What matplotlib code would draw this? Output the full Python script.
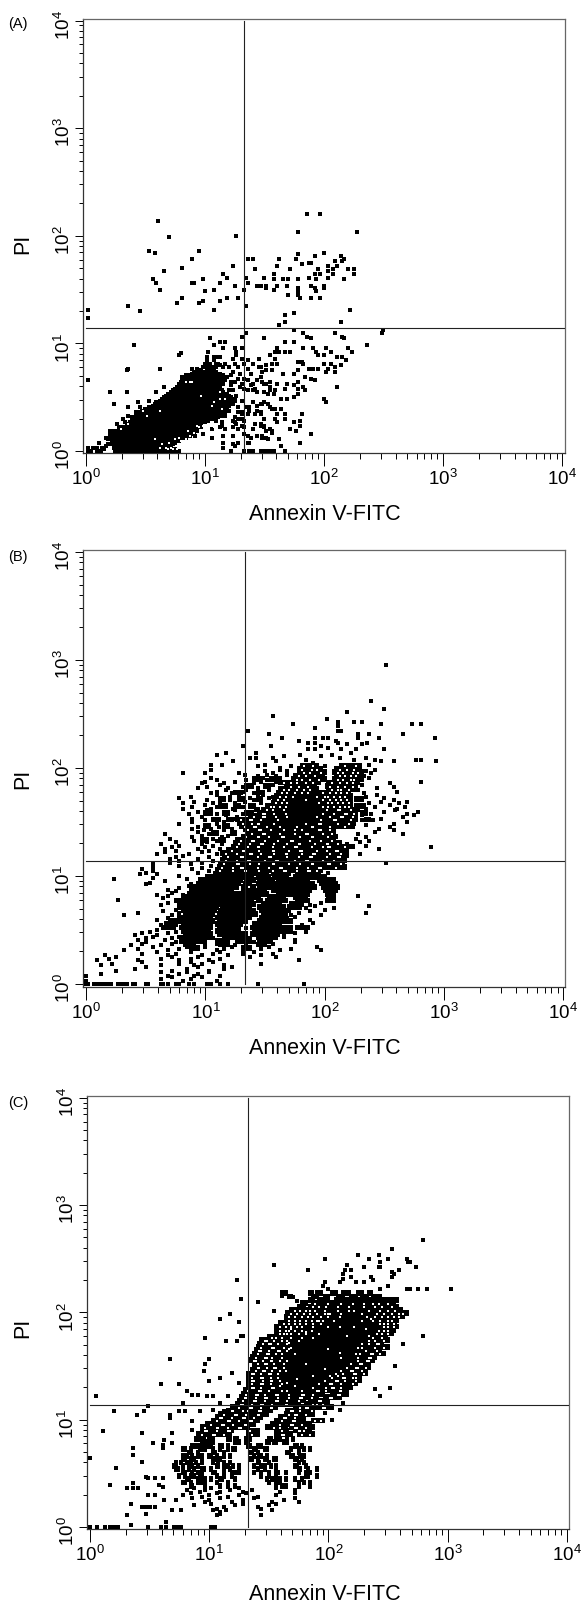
import numpy as np
import matplotlib
matplotlib.use('Agg')
import matplotlib.pyplot as plt
from matplotlib.ticker import LogLocator, NullFormatter
from matplotlib.transforms import ScaledTranslation

plt.rcParams['font.family'] = ['Liberation Sans', 'DejaVu Sans']
plt.rcParams['mathtext.fontset'] = 'custom'
plt.rcParams['mathtext.rm'] = 'Liberation Sans'

# all events are in display channels, 64 channels per decade, 256 in all
CH_PER_DECADE = 64
x_gate = 85
y_gate = 73
decades = [1, 10, 100, 1000, 10000]
tick_text = [r'$\mathregular{10^{%d}}$' % i for i in range(5)]
x_title = 'Annexin V-FITC'
y_title = 'PI'

# Panel A: solid population as one run per y channel (index = y channel)
a_row_left = [16, 16, 15, 15, 14, 14, 14, 14, 13, 13, 13, 13, 13, 18, 20, 22, 23, 24, 25, 26, 26, 27, 28, 29,
              30, 32, 34, 36, 37, 38, 40, 41, 42, 43, 44, 46, 47, 48, 49, 50, 50, 51, 52, 53, 55, 56, 57, 58]
a_row_right = [50, 48, 46, 46, 47, 48, 50, 50, 54, 56, 58, 58, 58, 59, 62, 60, 62, 64, 66, 69, 71, 73, 75, 75,
               76, 76, 76, 77, 78, 79, 80, 80, 78, 77, 76, 74, 73, 72, 72, 72, 74, 74, 75, 74, 75, 74, 72, 70]
a_holes = [(37, 7), (40, 2), (43, 2), (48, 7), (50, 8), (50, 3), (52, 5), (53, 2), (55, 2), (56, 3), (58, 4), (62, 33),
           (69, 29), (68, 27), (73, 25), (33, 21), (40, 24), (31, 24), (19, 13), (23, 16), (61, 14), (64, 14), (66, 14),
           (69, 14), (54, 41), (56, 41), (57, 41), (72, 35), (72, 31), (75, 31), (46, 2), (45, 5), (41, 4), (49, 1), (47, 1),
           (51, 6), (54, 7), (56, 9), (58, 11), (55, 12), (52, 0), (44, 1), (60, 15), (63, 15), (67, 15), (70, 16)]
a_upper = [(39, 137), (45, 127), (34, 119), (37, 118), (57, 114), (61, 119), (81, 128), (114, 130), (119, 141), (126, 141),
           (146, 130), (114, 117), (128, 118), (123, 116), (137, 116), (87, 114), (90, 114), (104, 114), (113, 114), (116, 111),
           (120, 112), (121, 112), (103, 110), (79, 110), (42, 107), (52, 109), (91, 108), (110, 108), (130, 110), (134, 113),
           (138, 113), (139, 114), (135, 110), (141, 108), (144, 108), (144, 105), (133, 108), (130, 107), (125, 108), (123, 105),
           (133, 105), (126, 105), (101, 105), (74, 105), (36, 102), (38, 100), (40, 96), (57, 100), (58, 100), (63, 102),
           (72, 100), (76, 103), (86, 103), (87, 100), (96, 103), (101, 102), (106, 102), (109, 102), (114, 102), (120, 103),
           (124, 102), (130, 103), (139, 102), (80, 98), (85, 96), (69, 96), (64, 95), (92, 98), (94, 98), (97, 98), (97, 97),
           (101, 96), (103, 98), (108, 98), (114, 97), (114, 95), (121, 98), (123, 97), (124, 95), (128, 98), (128, 97), (109, 93),
           (114, 93), (115, 91), (121, 91), (126, 91), (52, 91), (49, 88), (61, 88), (63, 89), (72, 89), (76, 91), (82, 91),
           (86, 86), (69, 84), (23, 86), (29, 83), (1, 84), (1, 79), (112, 82), (107, 81), (107, 77), (104, 75), (112, 72),
           (142, 84), (137, 77), (160, 72), (159, 70), (86, 70), (117, 70), (119, 68), (121, 67), (84, 68), (96, 67), (112, 65),
           (107, 65), (103, 61), (134, 70), (138, 68), (139, 67), (151, 63), (129, 61)]
a_lower = [(67, 67), (72, 65), (75, 65), (69, 63), (74, 61), (80, 61), (84, 61), (81, 59), (66, 59), (69, 56), (72, 56), (65, 56),
           (65, 54), (67, 52), (69, 54), (64, 52), (71, 56), (72, 51), (75, 52), (74, 50), (77, 50), (80, 52), (79, 55), (81, 57),
           (84, 55), (85, 52), (87, 54), (82, 50), (87, 49), (89, 46), (93, 55), (95, 47), (99, 57), (100, 52), (94, 50), (78, 45),
           (79, 47), (80, 41), (78, 39), (82, 43), (84, 40), (85, 43), (77, 36), (79, 36), (81, 33), (83, 38), (85, 37), (87, 42),
           (89, 39), (87, 36), (91, 37), (95, 41), (97, 40), (99, 36), (102, 36), (82, 26), (82, 23), (86, 26), (88, 26), (90, 29),
           (94, 28), (96, 29), (99, 26), (102, 25), (94, 23), (87, 22), (91, 22), (82, 19), (85, 18), (79, 18), (91, 16), (94, 16),
           (96, 14), (99, 13), (100, 11), (90, 13), (92, 9), (95, 9), (98, 7), (79, 14), (82, 13), (85, 14), (73, 15), (75, 13),
           (79, 9), (74, 9), (85, 10), (87, 9), (87, 5), (82, 5), (74, 5), (68, 8), (63, 10), (68, 13), (74, 2), (79, 4), (78, 0),
           (85, 0), (88, 0), (90, 0), (94, 0), (98, 0), (101, 0), (102, 59), (104, 59), (107, 59), (110, 59), (102, 55), (103, 52),
           (100, 48), (114, 53), (116, 53), (117, 52), (117, 61), (122, 61), (124, 59), (125, 57), (128, 57), (132, 59), (135, 56),
           (138, 56), (140, 54), (143, 59), (141, 61), (132, 52), (134, 50), (137, 51), (130, 49), (128, 52), (125, 49), (122, 49),
           (120, 49), (114, 48), (112, 46), (106, 46), (118, 44), (121, 43), (123, 42), (114, 41), (112, 39), (103, 40), (99, 41),
           (99, 38), (96, 40), (108, 40), (107, 37), (114, 37), (117, 38), (118, 36), (114, 34), (112, 32), (108, 31), (105, 31),
           (101, 34), (98, 34), (96, 35), (92, 35), (90, 36), (90, 40), (92, 42), (128, 31), (129, 29), (135, 38), (134, 47),
           (129, 47), (94, 44), (97, 48), (93, 50), (90, 52), (97, 51), (92, 27), (95, 28), (98, 28), (100, 25), (102, 25), (105, 25),
           (107, 22), (103, 22), (94, 22), (92, 24), (88, 24), (84, 23), (96, 19), (102, 19), (103, 17), (107, 19), (112, 17),
           (115, 18), (116, 22), (115, 15), (110, 13), (113, 12), (121, 10), (94, 15), (96, 15), (97, 12), (100, 12), (95, 8), (97, 8),
           (89, 8), (104, 7), (115, 5), (105, 3), (88, 5), (84, 19), (84, 15), (80, 17), (80, 3), (90, 0), (96, 0), (97, 0), (100, 0),
           (107, 0), (1, 42), (23, 49), (22, 48), (26, 63), (40, 49), (51, 58), (50, 57), (13, 35), (22, 35), (15, 28), (23, 26), (28, 29),
           (1, 2), (4, 2), (2, 0), (1, 0), (7, 5), (9, 2), (11, 8), (13, 10), (17, 16), (20, 19), (23, 21), (3, 0), (6, 0), (8, 0), (10, 1),
           (11, 3), (6, 2), (12, 7), (12, 4), (18, 14), (21, 17), (25, 20), (27, 23), (29, 26), (34, 30), (38, 35), (42, 38), (52, 44),
           (54, 45), (57, 49), (60, 49), (62, 48), (76, 44), (78, 41), (83, 46), (76, 33), (84, 30), (79, 28), (77, 24), (84, 22), (75, 21),
           (80, 20), (70, 18), (73, 17), (81, 16), (72, 14), (60, 12), (59, 9)]
a_runs = [(48, '60-62 65-69'), (50, '63-66 68-70'), (52, '66-67 70-71')]

# Panel B
b_core_x = [111, 123, 129, 127, 115, 105, 97, 91, 85, 81, 69, 61, 56, 57, 65, 71, 77, 83, 89, 97, 101, 105]
b_core_y = [117, 117, 109, 95, 91, 83, 77, 73, 67, 59, 52, 47, 51, 57, 61, 67, 73, 79, 87, 97, 107, 113]
b_upper = [(161, 189), (153, 168), (160, 163), (100, 159), (140, 161), (129, 157), (111, 154), (135, 155), (135, 153), (144, 155),
           (148, 155), (158, 154), (175, 154), (180, 154), (87, 150), (98, 148), (105, 146), (123, 152), (123, 146), (127, 146),
           (130, 146), (135, 150), (137, 150), (146, 148), (146, 146), (152, 148), (157, 146), (170, 148), (187, 146), (84, 141),
           (114, 144), (99, 141), (119, 143), (123, 143), (123, 139), (134, 144), (135, 143), (137, 139), (145, 139), (142, 137),
           (151, 143), (160, 139), (75, 137), (70, 136), (91, 137), (177, 133), (180, 133), (188, 132), (88, 134), (91, 134), (100, 134),
           (102, 132), (106, 135), (79, 132), (73, 130), (67, 130), (155, 133), (158, 132), (165, 132), (150, 134), (67, 127), (64, 125),
           (52, 125), (115, 136), (118, 133), (122, 131), (126, 135), (128, 129), (132, 136), (136, 134), (140, 130), (144, 133),
           (147, 128), (152, 130), (119, 139), (126, 141), (130, 140), (140, 142), (148, 142), (104, 128), (110, 129), (92, 129), (96, 130)]
b_rows = [(125, [82, 100, 153]), (126, [96, 108, 150]), (127, [104, 155]),
          (122, [67, 95, 104, 152]), (123, [92, 102, 149]), (124, [85, 97, 108]),
          (119, [62, 74, 90, 163]), (120, [64, 80, 94, 102, 180]), (121, [70, 86, 97, 148]),
          (116, [60, 76, 92, 104, 156]), (117, [65, 84, 96, 165]), (118, [72, 88, 100, 148]),
          (113, [67, 78, 90, 149]), (114, [70, 84, 94, 167]), (115, [75, 86, 98, 146]),
          (110, [50, 74, 88, 98, 145, 160]), (111, [56, 77, 92, 100, 150]), (112, [70, 82, 95, 142, 156]),
          (107, [52, 68, 80, 94, 152, 168]), (108, [58, 72, 85, 158, 172]), (109, [65, 77, 90, 145, 165]),
          (104, [52, 67, 79, 92, 150, 167]), (105, [57, 70, 84, 155, 171]), (106, [64, 74, 88, 145, 163]),
          (101, [55, 70, 84, 153, 172]), (102, [60, 75, 87, 160, 178]), (103, [65, 80, 91, 146, 166]),
          (98, [57, 79, 158]), (99, [62, 81, 170]), (100, [75, 148, 176]),
          (95, [50, 70, 165]), (96, [57, 74, 172]), (97, [64, 78, 148, 154]),
          (92, [57, 67, 78, 157]), (93, [60, 71, 163]), (94, [64, 75, 150]),
          (89, [42, 66, 78, 146, 170]), (90, [60, 70, 155]), (91, [63, 74, 165]),
          (86, [45, 68, 145]), (87, [57, 73, 150]), (88, [62, 76]),
          (83, [40, 62, 73, 140]), (84, [48, 65, 147]), (85, [58, 70, 152]),
          (80, [42, 60, 72, 157]), (81, [46, 64, 185]), (82, [50, 68, 150]),
          (77, [38, 55, 70, 147]), (78, [42, 62, 140]), (79, [48, 66]),
          (74, [45, 60]), (75, [48, 66]), (76, [52, 140]),
          (71, [36, 56]), (72, [45, 62, 161]), (73, [50, 68]),
          (68, [30, 57]), (69, [36, 62]), (70, [50, 67]),
          (65, [29, 38]), (66, [32, 60, 130]), (67, [36, 66]),
          (62, [15, 54]), (63, [36]), (64, [50]),
          (59, [32, 56]), (60, [34]), (61, [42]),
          (56, [44]), (57, [50]), (58, [55]),
          (53, [38, 52]), (54, [46]), (55, [48]),
          (50, [17, 48]), (51, [41]), (52, [44, 146]),
          (47, [40, 120]), (48, [44, 126]), (49, [48]),
          (44, [48, 128]), (45, [50, 118, 133]), (46, [123, 152]),
          (41, [20, 46, 110, 126]), (42, [28, 50, 114, 150]), (43, [41, 120]),
          (38, [38, 120]), (39, [44, 108]), (40, [112]),
          (35, [40, 116]), (36, [46, 122]), (37, [106]),
          (32, [38, 66, 80, 110]), (33, [66, 86]), (34, [62, 76, 114]),
          (29, [26, 38, 64, 80, 106]), (30, [30, 44, 66, 86, 112]), (31, [34, 48, 64, 80, 118]),
          (26, [28, 42, 64, 70, 86, 112]), (27, [32, 46, 62, 68, 80, 88, 102]), (28, [36, 50, 64, 80, 86, 106]),
          (23, [24, 40, 54, 64, 80, 96]), (24, [30, 46, 58, 70, 86, 100]), (25, [32, 48, 62, 76, 90, 112]),
          (20, [20, 44, 56, 70, 84, 104, 126]), (21, [28, 50, 60, 74, 94, 110]), (22, [36, 54, 64, 78, 98, 124]),
          (17, [10, 44, 62, 76, 94]), (18, [30, 48, 68, 84, 100]), (19, [38, 56, 72, 90]),
          (14, [6, 28, 50, 66, 114]), (15, [12, 40, 56, 72]), (16, [16, 46, 60, 88, 102]),
          (11, [8, 40, 58, 74]), (12, [14, 50, 62, 94]), (13, [30, 56, 68]),
          (8, [16, 46, 66]), (9, [26, 54, 74]), (10, [32, 60, 78]),
          (5, [0, 44, 58, 72]), (6, [8, 50, 60]), (7, [40, 54, 66]),
          (2, [0, 52, 70]), (3, [40, 56]), (4, [46, 62]),
          (0, [0, 1, 4, 5, 6, 7, 8, 9, 10, 12, 13, 17, 18, 20, 21, 22, 25, 26, 32, 33, 40, 41, 44, 48, 50, 55, 58, 65, 67, 72, 76, 92, 117])]
# y channel, then the streaks of adjoining events in that row
b_runs = [(129, '116-124 137-147'), (127, '114-126 134-147'), (125, '114-128 133-148'), (123, '112-127 134-147'),
          (121, '90-93 99-102 111-128 133-146'), (119, '104-125 130-146'), (117, '86-89 96-98 107-123 129-145'), (115, '104-124 130-144'),
          (113, '80-83 92-95 103-141'), (111, '102-142'), (109, '72-74 82-84 92-94 101-142 146-148'), (107, '100-142'),
          (105, '72-75 80-82 88-90 97-142 146-149'), (103, '95-144'), (101, '64-67 74-76 86-89 93-145 148-150'),
          (99, '88-145'), (97, '68-71 76-78 81-145 150-152'), (95, '82-144'), (93, '64-66 74-76 83-143'), (91, '85-133'),
          (89, '68-70 78-80 87-133'), (87, '84-134'), (85, '62-65 72-74 81-133'),
          (83, '80-136'), (81, '79-143'), (79, '76-140'), (77, '73-139'), (75, '74-138'), (73, '73-139'), (71, '72-138'), (69, '71-139'),
          (67, '70-126'),
          (65, '69-72 74-76 78-81 83-85 87-89 91-93 95-97 100-103 105-109 113-116 118-122 124-125'),
          (63, '65-67 69-74 76-78 80-84 86-89 92-94 96-98 101-104 106-108 112-115 117-118 120-124 126-128'),
          (61, '61-64 66-68 70-72 74-77 79-83 86-88 90 93-96 98-100 103-105 107-109 111-114 116-119 125-128 130-133'),
          (59, '60-62 64-70 72-75 77-82 85-88 92-94 96-98 100-103 105-108 110-113 115-118 120-122 126-130 132-134'),
          (57, '57-60 62-66 68-71 73-77 79-81 84-86 89-90 93-95 97-100 102-105 107-109 111-115 117-120 122-123 127-131 133-135'),
          (55, '56-58 60-64 66-69 71-74 76-78 84-86 88-92 94-96 100-103 105-110 112-116 118-120 128-130 132-134'),
          (53, '55-59 61-62 64-68 70-75 77-79 81-84 86-90 92-94 96-97 103-106 108-111 113-116 118-119 129-133'),
          (51, '52-56 58-60 62-65 67-72 74-76 78-80 82-85 87-88 90-93 98-101 103-106 112-114 116-118 130-133'),
          (49, '49-52 54-58 60-63 65-67 69-71 73-75 77-80 82-86 88-89 92-94 97-99 101-104 106-107 113-116 118-119 129-133'),
          (47, '50-53 55-56 58-60 62-65 67-68 70-73 75-77 79-82 84-85 87-90 95-98 100-104 110-113 115-116'),
          (45, '51-54 56-58 60-61 63-65 67-70 73-75 77-80 82-83 85-88 93-96 98-101 103-106 109-111 113-115'),
          (43, '52-54 56-57 59-60 62-64 66-69 72-75 77-80 82-84 86-90 94-97 99-100 102-104 106-109'),
          (41, '53-56 58-60 62-63 65-68 71-73 75-78 80-82 84-85 87-91 95-98 100-103 105-107'),
          (39, '50-52 54-57 59-62 64-67 70-72 74-76 78-80 82 84-88 94-96 98-101 103-106'),
          (37, '45-47 49-51 53-55 57-59 61-63 65-68 71-74 76-78 80-81 83-86 93-95 97-100 102-105 107-110'),
          (35, '43-45 47-48 52-54 56-59 61-62 64-67 70-72 74-75 77-78 80-83 90-92 94-97 99-101 103-104'),
          (33, '41-43 45-47 51-53 55-58 60-61 63-67 71-73 75-77 79-82 89-91 93-96 98-102 104-105 107-110 113-115 117-119'),
          (31, '52-54 56-58 60 62-65 70-72 74-76 78-82 90-92 94-96 98-100 102-104 106-110'),
          (29, '53-55 57-59 61 63-67 71-73 75-77 79-84 89-91 93-95 97-100 102-103'),
          (27, '52-54 56-58 60-66 74-76 78-84 92-94 96-100'), (25, '51-53 55-56 58-59 61-64 71-74 81-83 85-88 93-95 97-99'),
          (23, '53-57 72-76 92-96'), (21, '56-60 84-88')]
# white gaps inside the streaks, same rows
b_gaps = [(129, [117, 122, 139, 145]), (127, [116, 121, 124, 136, 140, 144]), (125, [117, 120, 126, 135, 138, 143, 146]),
          (123, [114, 118, 123, 136, 139, 142, 145]), (121, [113, 116, 120, 125, 135, 138, 142, 144]),
          (119, [106, 110, 113, 118, 122, 132, 136, 140, 143]), (117, [110, 114, 119, 131, 135, 139, 143]),
          (115, [106, 109, 113, 117, 120, 132, 135, 137, 141]), (113, [105, 108, 112, 116, 119, 127, 131, 134, 137, 140]),
          (111, [104, 107, 111, 124, 128, 130, 133, 136, 139]), (109, [103, 106, 118, 127, 131, 134, 137, 140]),
          (107, [102, 105, 108, 125, 130, 132, 135, 138, 141]), (105, [99, 101, 104, 107, 127, 130, 133, 136, 139, 141]),
          (103, [97, 100, 106, 129, 135, 136, 142]), (101, [95, 96, 101, 107, 127, 133, 139, 140, 144]),
          (99, [90, 95, 96, 102, 108, 124, 131, 137, 138, 143]), (97, [83, 88, 89, 94, 103, 126, 133, 134, 142]),
          (95, [84, 89, 92, 93, 101, 118, 125, 126, 135, 141]), (93, [85, 90, 91, 97, 104, 113, 121, 122, 131, 139]),
          (91, [87, 93, 94, 99, 106, 112, 116, 125, 126, 131]), (89, [89, 95, 96, 104, 112, 118, 119, 127, 132]),
          (87, [86, 92, 93, 98, 105, 106, 115, 121, 122, 130]), (85, [83, 89, 90, 96, 103, 110, 111, 120, 126, 132]),
          (83, [82, 88, 94, 95, 101, 108, 114, 115, 123, 129, 130, 135]), (81, [81, 87, 92, 93, 100, 106, 112, 113, 121, 127, 130, 131, 139]),
          (79, [78, 84, 85, 93, 100, 101, 109, 115, 116, 124, 129, 134, 135]), (77, [75, 81, 88, 89, 94, 101, 107, 108, 116, 122, 123, 131, 137]),
          (75, [76, 83, 84, 92, 98, 99, 108, 114, 120, 121, 129, 135, 136]), (73, [75, 81, 87, 88, 96, 102, 103, 112, 118, 119, 127, 133]),
          (71, [74, 81, 82, 88, 93, 100, 101, 109, 115, 121, 122, 130, 131, 137]), (69, [73, 79, 83, 84, 92, 98, 104, 105, 113, 119, 125, 126, 134]),
          (67, [72, 79, 85, 86, 93, 100, 106, 107, 113, 119, 120, 124])]

# Panel C
c_core_x = [100, 104, 106, 107, 111, 120, 128, 140, 152, 158, 157, 152, 148, 142, 134, 124, 112, 104]
c_core_y = [84, 92, 104, 112, 118, 124, 128, 132, 131, 126, 118, 108, 100, 94, 88, 84, 80, 80]
c_holes = [(116, 116), (123, 115), (134, 119), (142, 119), (138, 114), (146, 123), (139, 129), (128, 106), (134, 104), (116, 97),
           (126, 94), (129, 90), (133, 90), (111, 88), (123, 123), (119, 123), (108, 118), (107, 110), (107, 106), (144, 107), (143, 103),
           (135, 101), (150, 114), (116, 129), (102, 84), (106, 86), (120, 90), (128, 127), (151, 124), (148, 118), (110, 84)]
c_upper = [(179, 171), (162, 166), (144, 162), (126, 160), (99, 156), (138, 156), (150, 160), (155, 162), (160, 160), (156, 158),
           (170, 160), (172, 158), (175, 155), (171, 158), (155, 155), (156, 155), (147, 155), (140, 153), (136, 151), (137, 153), (140, 149),
           (136, 148), (117, 153), (162, 152), (163, 151), (166, 153), (162, 149), (79, 147), (126, 146), (125, 144), (143, 146), (147, 146),
           (151, 149), (152, 147), (156, 142), (170, 142), (172, 142), (176, 142), (181, 142), (194, 142), (128, 142), (134, 146), (160, 144),
           (105, 140), (103, 138), (109, 137), (111, 135), (81, 136), (90, 134), (99, 129), (75, 127), (70, 124), (80, 122), (62, 113), (73, 111),
           (79, 111), (81, 114), (82, 114), (179, 114), (168, 109), (164, 96), (161, 83), (156, 78), (153, 82), (43, 100), (38, 85), (48, 85),
           (3, 78), (13, 69), (25, 67), (29, 69), (31, 72), (50, 74), (7, 57), (28, 56), (0, 41), (14, 35), (11, 25), (20, 23), (23, 23), (26, 23),
           (23, 26), (30, 30), (31, 29), (35, 29), (39, 29), (37, 25), (39, 24), (31, 19), (35, 19), (40, 16), (22, 14), (28, 12), (30, 12), (32, 12),
           (30, 8), (35, 12), (44, 10), (49, 10), (20, 7), (22, 1), (41, 3), (0, 0), (4, 0), (8, 0), (11, 0), (13, 0), (15, 0), (12, 0), (14, 0),
           (31, 0), (38, 0), (41, 0), (45, 0), (47, 0), (49, 0), (65, 0), (66, 0), (67, 0), (34, 50), (39, 47), (39, 49), (44, 50), (44, 56), (40, 52),
           (23, 47), (23, 43), (28, 39), (43, 67), (43, 65), (51, 69), (48, 69), (59, 69), (55, 63), (55, 58), (52, 81), (55, 79), (58, 79), (63, 78),
           (66, 78), (64, 87), (70, 89), (61, 93), (62, 97), (64, 100), (62, 50), (63, 51), (64, 50), (65, 49), (63, 48), (64, 48), (65, 51),
           (76, 92), (80, 86), (74, 78), (70, 74), (76, 72), (66, 70), (72, 69), (130, 64), (126, 68), (136, 74), (134, 70)]
c_rows = [(22, [52, 62, 75, 87, 110]), (23, [56, 65, 80, 100]), (21, [59, 70, 82, 102]),
          (19, [50, 64, 80, 100]), (20, [54, 68, 84, 110]), (18, [60, 74, 90]),
          (16, [46, 64, 82, 104]), (17, [55, 70, 88, 110]), (15, [62, 76, 98, 112]),
          (13, [56, 78, 96]), (14, [65, 82, 100]), (12, [72, 90]),
          (10, [66, 73, 98]), (11, [68, 92]), (9, [70]),
          (7, [68, 92]), (8, [70])]
c_runs = [(139, '103-105 118-119 122-124 130-132 136-139 144-146 150-151'), (137, '107-108 120-122 126-128 133-136 140-143 146-149 152-156'),
          (135, '118-120 123-128 132-136 138-146 148-154 156-165'), (133, '114-116 120-124 126-163'), (131, '112-115 118-165'),
          (129, '108-114 116-167'), (127, '106-170'), (125, '105-168'), (123, '105-165'), (121, '102-164'), (119, '100-165'), (117, '100-163'),
          (115, '100-162'), (113, '96-159'), (111, '92-160'), (109, '91-157'), (107, '90-160'), (105, '89-156'), (103, '88-158'), (101, '87-153'),
          (99, '86-152'), (97, '88-150'), (95, '88-150'), (93, '87-148'), (91, '85-148'), (89, '85-145'), (87, '85-145'), (85, '85-143'),
          (83, '85-140'), (81, '83-138'), (79, '82-125 130-138'), (77, '81-122 126-134'), (75, '80-115 118-128'), (73, '79-112 116-128'),
          (71, '78-100 110-120 122-130'), (69, '74-97 106-120'), (67, '70-95 105-120'), (65, '68-92 102-115'),
          (63, '66-90 100-115 120-125'), (61, '63-88 98-118'), (59, '60-85 95-105 108-120'), (57, '60-76 85-90 100-106 110-118'),
          (55, '58-75 85-90 100-108 112-120'),
          (52, '57-58 60-61 64-66 74-75 78-79 84 86 96-97 100-102 106 109'), (50, '60-62 65-66 78-80 84-85 95-96 99-100 104-106'),
          (48, '55-56 58 60-62 65 70-71 74 85-86 90-92 110-111 114'), (46, '50-51 54 59-60 62 66 70 74 77-78 88-89 94-95 108 112 115 118'),
          (44, '53-54 58 66-67 72 86-87 90 106-107 112'), (42, '50-52 55 58 60 64-65 68 72 75 88 91-92 95 108-109 113 115'),
          (40, '50-51 54 56 60 66 68 70 86-87 90 94-95 99-100 110-111 114'), (38, '46 49 52 54 57 60 66 69 72 75 90-91 96 112 115'),
          (36, '45-46 50 53 55 58 68-69 72 74 77 80 88 92 94 97 100 110-111 116'), (34, '46-47 50 53 56 60-61 65 72 75 80 90 94 100 112-113 117 122'),
          (32, '50-51 55 58 60 66-67 72 76-78 80 88 92 96 100-101 105 112 116 118'), (30, '48 51 54 56 59-60 68 72 76 92 96 100 116-117 122'),
          (28, '52-53 58 60 62 65 70-71 78 95 98 100 102 105 110 114'), (26, '50-51 54 58 60 62 68 74 96 100 102 112 115 118'),
          (24, '54-55 62 70 74 78 100 103 105 112 118')]
c_gaps = [(133, [121, 128, 135, 141, 147, 152, 155, 160]), (131, [120, 123, 127, 133, 139, 147, 153, 157, 162]),
          (129, [110, 113, 118, 121, 126, 133, 142, 150, 156, 160, 164]), (127, [108, 111, 115, 118, 122, 126, 129, 135, 146, 154, 158, 162, 166, 168]),
          (125, [107, 110, 114, 117, 120, 124, 128, 134, 149, 153, 157, 160, 163, 166]), (123, [107, 110, 113, 116, 119, 122, 125, 131, 152, 156, 160, 162]),
          (121, [104, 107, 110, 113, 116, 120, 124, 156, 158, 160, 163]), (119, [102, 105, 108, 111, 114, 120, 128, 158, 160, 163]),
          (117, [102, 105, 107, 110, 114, 119, 155, 158, 160]), (115, [102, 104, 106, 108, 112, 116, 154, 157, 160]),
          (113, [98, 100, 103, 108, 114, 120, 152, 157]), (111, [94, 95, 99, 103, 106, 112, 150, 153, 158]),
          (109, [93, 96, 97, 101, 106, 146, 150, 154, 155]), (107, [92, 98, 99, 104, 108, 146, 153, 158]),
          (105, [91, 92, 96, 101, 102, 106, 148, 154]), (103, [90, 95, 96, 100, 103, 110, 145, 151, 152, 156]),
          (101, [89, 94, 95, 98, 103, 144, 150, 151]), (99, [88, 89, 93, 97, 98, 102, 106, 144, 149, 150]),
          (97, [90, 94, 95, 99, 104, 140, 145, 146]), (95, [90, 91, 95, 99, 100, 104, 138, 143, 144, 148]),
          (93, [89, 93, 94, 98, 102, 105, 135, 140, 141, 146]), (91, [87, 88, 92, 96, 97, 101, 132, 136, 142, 143, 147]),
          (89, [87, 92, 93, 97, 101, 130, 136, 137, 141, 143]), (87, [87, 88, 93, 97, 98, 102, 126, 132, 133, 137, 143]),
          (85, [87, 92, 93, 97, 103, 123, 129, 130, 135, 141]), (83, [87, 88, 92, 98, 99, 120, 127, 130, 131, 135]),
          (81, [85, 91, 92, 96, 103, 106, 114, 122, 123, 127, 134, 135]), (79, [84, 89, 90, 94, 100, 101, 107, 114, 115, 120, 133, 134]),
          (77, [83, 84, 89, 94, 95, 101, 107, 113, 114, 119, 129, 130]), (75, [82, 88, 89, 94, 100, 101, 106, 112, 123, 124]),
          (73, [81, 82, 87, 92, 93, 98, 105, 106, 120, 122, 125]), (71, [80, 86, 87, 92, 97, 98, 113, 116, 117, 125, 126]),
          (69, [76, 77, 82, 85, 91, 92, 108, 109, 113, 119]), (67, [72, 78, 79, 84, 90, 91, 107, 110, 111, 116]),
          (65, [70, 71, 76, 82, 83, 88, 104, 105, 110]), (63, [68, 74, 75, 80, 86, 87, 103, 109, 110, 121, 124]),
          (61, [65, 71, 72, 77, 83, 84, 102, 108, 109, 114]), (59, [62, 68, 69, 74, 80, 81, 99, 102, 110, 111, 116]),
          (57, [62, 63, 68, 74, 75, 86, 103, 112, 113, 115]), (55, [60, 66, 67, 72, 87, 103, 104, 114, 118])]


def to_value(channels):
    return 10.0 ** (np.asarray(channels, dtype=float) / CH_PER_DECADE)


def row_points(rows):
    return [(x, y) for y, xs in rows for x in xs]


def run_points(runs, thick=True):
    # a streak covers two y channels, the rows are read every second channel
    pts = []
    for y, text in runs:
        for part in text.split():
            ends = part.split('-')
            for x in range(int(ends[0]), int(ends[-1]) + 1):
                pts.append((x, y))
                if thick:
                    pts.append((x, y + 1))
    return pts


def solid_points(lefts, rights):
    pts = []
    for y, (start, stop) in enumerate(zip(lefts, rights)):
        pts += [(x, y) for x in range(start, stop + 1)]
    return pts


W, H = 581.0, 1606.0
fig = plt.figure(figsize=(W / 100, H / 100), dpi=100, facecolor='white')


def draw_panel(box, anchors, core, holes, point_sets, tag, tag_y, pi_y, title_y):
    left, right, top, bottom = box
    x0, x4, y0, y4 = anchors
    ax = fig.add_axes([left / W, 1 - bottom / H, (right - left) / W, (bottom - top) / H])
    ax.set_xscale('log')
    ax.set_yscale('log')
    dx = (x4 - x0) / 4.0
    dy = (y0 - y4) / 4.0
    ax.set_xlim(10 ** ((left - x0) / dx), 10 ** ((right - x0) / dx))
    ax.set_ylim(10 ** ((y0 - bottom) / dy), 10 ** ((y0 - top) / dy))

    if core is not None:
        ax.fill(to_value(core[0]), to_value(core[1]), color='black', lw=0, zorder=2)
    pts = [p for group in point_sets for p in group]
    xs, ys = zip(*pts)
    ax.scatter(to_value(xs), to_value(ys), marker='s', s=5.0, c='black', linewidths=0, zorder=3)
    hx, hy = zip(*holes)
    ax.scatter(to_value(hx), to_value(hy), marker='s', s=3.0, c='white', linewidths=0, zorder=4)

    # quadrant gates
    ax.plot([to_value(x_gate)] * 2, [1, 10000], color='#222222', lw=0.8, zorder=5)
    ax.plot([1, ax.get_xlim()[1]], [to_value(y_gate)] * 2, color='#222222', lw=0.8, zorder=5)

    ax.set_xticks(decades, tick_text, fontsize=13.5)
    ax.set_yticks(decades, tick_text, fontsize=13.5)
    ax.xaxis.set_minor_locator(LogLocator(base=10, subs=range(2, 10), numticks=20))
    ax.yaxis.set_minor_locator(LogLocator(base=10, subs=range(2, 10), numticks=20))
    ax.xaxis.set_minor_formatter(NullFormatter())
    ax.yaxis.set_minor_formatter(NullFormatter())
    ax.tick_params(axis='x', which='major', length=9, width=0.7, pad=1.5)
    ax.tick_params(axis='x', which='minor', length=4.5, width=0.7)
    ax.tick_params(axis='y', which='major', length=5.5, width=0.7, pad=1)
    ax.tick_params(axis='y', which='minor', length=3, width=0.7)
    shift = ScaledTranslation(0, -3.5 / 100, fig.dpi_scale_trans)
    for t in ax.get_yticklabels():
        t.set_rotation(90)
        t.set_va('center')
        t.set_transform(t.get_transform() + shift)

    for side in ['top', 'right']:
        ax.spines[side].set_color('#666666')
        ax.spines[side].set_linewidth(0.9)
    for side in ['left', 'bottom']:
        ax.spines[side].set_color('#333333')
        ax.spines[side].set_linewidth(0.9)

    fig.text(8 / W, 1 - tag_y / H, tag, fontsize=10.5, va='center', ha='left')
    fig.text(23 / W, 1 - pi_y / H, y_title, fontsize=15.5, rotation=90, va='center', ha='center')
    fig.text(325 / W, 1 - title_y / H, x_title, fontsize=15.5, va='center', ha='center')


draw_panel((83, 565, 19.5, 454), (85.7, 562, 452, 21.5), None, a_holes,
           [solid_points(a_row_left, a_row_right), a_upper, a_lower, run_points(a_runs, False)], '(A)', 24, 244, 515)
draw_panel((83, 565, 550.5, 988), (86.3, 563, 985, 553), (b_core_x, b_core_y), row_points(b_gaps),
           [b_upper, row_points(b_rows), run_points(b_runs)], '(B)', 557, 779, 1048)
draw_panel((87, 569, 1096.5, 1530), (90, 566.7, 1528, 1098.7), (c_core_x, c_core_y), c_holes + row_points(c_gaps),
           [c_upper, row_points(c_rows), run_points(c_runs)], '(C)', 1103, 1328, 1595)

fig.savefig('out.png', dpi=100, facecolor='white')
